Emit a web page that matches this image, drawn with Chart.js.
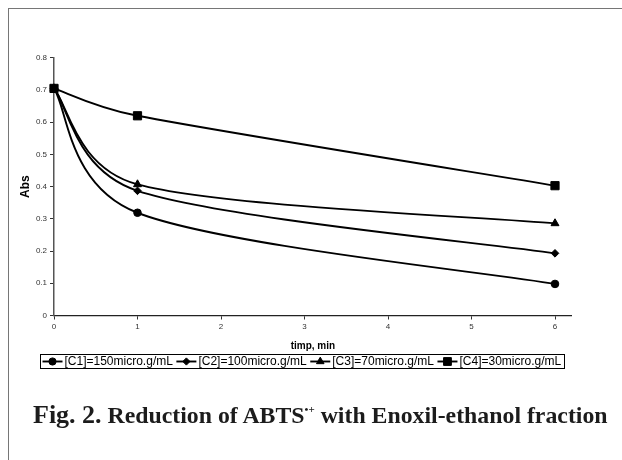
<!DOCTYPE html>
<html>
<head>
<meta charset="utf-8">
<title>Reduction of ABTS with Enoxil-ethanol fraction</title>
<script src="https://cdn.jsdelivr.net/npm/chart.js"></script>
<style>
  html, body { margin: 0; padding: 0; background: #fff; }
  #page { position: relative; width: 622px; height: 460px; overflow: hidden; background: #fff; }
  #frame { position: absolute; left: 8px; top: 8px; width: 640px; height: 480px;
           border-left: 1.5px solid #767676; border-top: 1.5px solid #767676; }
  #chart { position: absolute; left: 0; top: 0; }
  #caption { position: absolute; left: 33px; top: 400px; white-space: nowrap;
             font-family: "Liberation Serif", "Times New Roman", serif; font-weight: bold; color: #1c1c1c; }
  #caption .fig { font-size: 26px; }
  #caption .rest { font-size: 23.8px; }
  #caption sup { font-size: 11px; vertical-align: 10px; line-height: 0; }
</style>
</head>
<body>
<div id="page">
  <div id="frame"></div>
  <canvas id="chart" width="622" height="460"></canvas>
  <div id="caption"><span class="fig">Fig. 2.</span><span class="rest"> Reduction of ABTS<sup>&bull;+</sup> with Enoxil-ethanol fraction</span></div>
</div>
<script>
// Time points (min) and absorbance readings for each concentration
const timeMin = [0, 1, 6];
const absC1 = [0.705, 0.319, 0.098];
const absC2 = [0.705, 0.387, 0.193];
const absC3 = [0.705, 0.407, 0.286];
const absC4 = [0.705, 0.620, 0.403];
const seriesLabels = ['[C1]=150micro.g/mL', '[C2]=100micro.g/mL', '[C3]=70micro.g/mL', '[C4]=30micro.g/mL'];
const xTicks = [0, 1, 2, 3, 4, 5, 6];
const yTicks = [0, 0.1, 0.2, 0.3, 0.4, 0.5, 0.6, 0.7, 0.8];

Chart.defaults.font.family = "'Liberation Sans', Arial, sans-serif";

const toPoints = vals => vals.map((v, i) => ({ x: timeMin[i], y: v }));

const markerStyles = [
  { pointStyle: 'circle', pointRadius: 3.8 },
  { pointStyle: 'rectRot', pointRadius: 3.8 },
  { pointStyle: 'triangle', pointRadius: 4.6 },
  { pointStyle: 'rect', pointRadius: 5.8 }
];

const datasets = [absC1, absC2, absC3, absC4].map((vals, i) => ({
  label: seriesLabels[i],
  data: toPoints(vals),
  borderColor: '#000',
  backgroundColor: '#000',
  borderWidth: 1.9,
  pointBackgroundColor: '#000',
  pointBorderColor: '#000',
  pointBorderWidth: 1,
  pointStyle: markerStyles[i].pointStyle,
  pointRadius: markerStyles[i].pointRadius,
  tension: 0.4,
  clip: false,
  fill: false
}));

// Smoothed lines: Catmull-Rom tangents (1/6 of the neighbour span) in pixel space,
// each handle limited to half of the segment it sits on
const smoothLines = {
  id: 'smoothLines',
  beforeDatasetDraw(chart, args) {
    const meta = args.meta;
    const line = meta.dataset;
    if (!line || !line.updateControlPoints) return;
    line.updateControlPoints(chart.chartArea, meta.iScale.axis);
    const pts = meta.data;
    const n = pts.length;
    const dist = (a, b) => Math.hypot(b.x - a.x, b.y - a.y);
    for (let i = 0; i < n; i++) {
      const p = pts[i];
      const prev = pts[Math.max(i - 1, 0)];
      const next = pts[Math.min(i + 1, n - 1)];
      const dx = (next.x - prev.x) / 6;
      const dy = (next.y - prev.y) / 6;
      const len = Math.hypot(dx, dy) || 1;
      const kPrev = Math.min(1, 0.5 * dist(prev, p) / len);
      const kNext = Math.min(1, 0.5 * dist(p, next) / len);
      p.cp1x = p.x - dx * kPrev; p.cp1y = p.y - dy * kPrev;
      p.cp2x = p.x + dx * kNext; p.cp2y = p.y + dy * kNext;
    }
    line._path = undefined;
  }
};

// Boxed legend with a line-and-marker sample for each series
const boxedLegend = {
  id: 'boxedLegend',
  afterDraw(chart, args, opts) {
    const ctx = chart.ctx;
    ctx.save();
    ctx.font = opts.font;
    const items = chart.data.datasets.map(ds => ({ ds, w: ctx.measureText(ds.label).width }));
    const sym = opts.symbolWidth, gap = opts.textGap, sep = opts.itemGap, pad = opts.padding;
    const total = items.reduce((s, it) => s + sym + gap + it.w, 0) + sep * (items.length - 1) + pad * 2;
    const left = Math.round(opts.centerX - total / 2);
    const top = opts.top, h = opts.height;
    ctx.strokeStyle = '#000';
    ctx.lineWidth = 1;
    ctx.strokeRect(left + 0.5, top + 0.5, Math.round(total), h);
    const cy = top + h / 2 + 0.5;
    let x = left + pad;
    items.forEach(({ ds, w }) => {
      ctx.beginPath();
      ctx.moveTo(x, cy);
      ctx.lineTo(x + sym, cy);
      ctx.lineWidth = ds.borderWidth;
      ctx.strokeStyle = ds.borderColor;
      ctx.stroke();
      ctx.fillStyle = '#000';
      ctx.strokeStyle = '#000';
      ctx.lineWidth = 1;
      Chart.helpers.drawPoint(ctx, { pointStyle: ds.pointStyle, radius: ds.pointRadius * 0.95, borderWidth: 1, rotation: 0 }, x + sym / 2, cy);
      ctx.fillStyle = '#000';
      ctx.textAlign = 'left';
      ctx.textBaseline = 'middle';
      ctx.fillText(ds.label, x + sym + gap, cy + 0.5);
      x += sym + gap + w + sep;
    });
    ctx.restore();
  }
};

new Chart(document.getElementById('chart'), {
  type: 'line',
  data: { datasets },
  plugins: [smoothLines, boxedLegend],
  options: {
    responsive: false,
    animation: false,
    layout: { padding: { left: 0, top: 57.8, right: 50.3, bottom: 104.5 } },
    plugins: {
      legend: { display: false },
      tooltip: { enabled: false },
      boxedLegend: {
        font: "12px 'Liberation Sans', Arial, sans-serif",
        symbolWidth: 20, textGap: 2, itemGap: 3.5, padding: 2.5,
        centerX: 302, top: 354, height: 14
      }
    },
    scales: {
      x: {
        type: 'linear',
        min: 0,
        max: 6.2,
        afterBuildTicks: s => { s.ticks = xTicks.map(v => ({ value: v })); },
        afterFit: s => { s.height = 40; },
        ticks: { font: { size: 8 }, color: '#333', padding: 2, maxRotation: 0, autoSkip: false },
        grid: { display: true, drawOnChartArea: false, drawTicks: true, tickLength: 4, color: '#333', lineWidth: 1 },
        border: { display: true, color: '#222', width: 1.3 },
        title: { display: true, text: 'timp, min', color: '#000', font: { size: 10, weight: 'bold' }, padding: { top: 0, bottom: 3.5 } }
      },
      y: {
        min: 0,
        max: 0.8,
        afterBuildTicks: s => { s.ticks = yTicks.map(v => ({ value: v })); },
        afterFit: s => { s.width = 54; },
        ticks: { font: { size: 8 }, color: '#333', padding: 3, callback: v => (v === 0 ? '0' : v.toFixed(1)) },
        grid: { display: true, drawOnChartArea: false, drawTicks: true, tickLength: 4, color: '#333', lineWidth: 1 },
        border: { display: true, color: '#555', width: 1.5 },
        title: { display: true, text: 'Abs', color: '#000', font: { size: 12, weight: 'bold' }, padding: { top: 18, bottom: 0 } }
      }
    }
  }
});
</script>
</body>
</html>
